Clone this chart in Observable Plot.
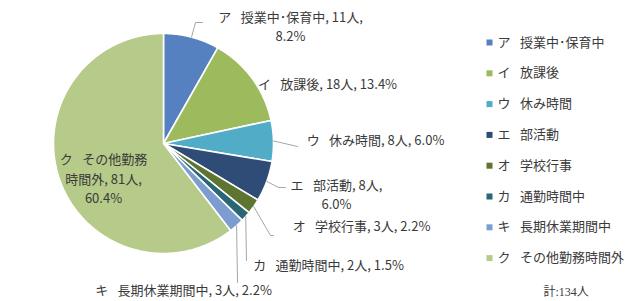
<!DOCTYPE html>
<html><head><meta charset="utf-8">
<script src="https://cdn.jsdelivr.net/npm/d3@7"></script>
<script src="https://cdn.jsdelivr.net/npm/@observablehq/plot@0.6"></script>
<style>
body{margin:0;background:#fff}
#chart svg{display:block}
</style>
</head><body><div id="chart"></div>
<script>
// ---- data ----
const SP = "\u2002 ";
const kana = ["ア","イ","ウ","エ","オ","カ","キ","ク"];
const names = ["授業中･保育中","放課後","休み時間","部活動","学校行事","通勤時間中","長期休業期間中","その他勤務時間外"];
const counts = [11, 18, 8, 8, 3, 2, 3, 81];
const colors = ["#5681c0","#9dbb5c","#50acc7","#2e4c75","#5e7431","#2a6675","#7d9dd1","#b6ca89"];
const totalLabel = "計:134人";
const categories = kana.map((k, i) => k + SP + names[i]);

// ---- layout (not data) ----
const W = 640, H = 301, CX = 163, CY = 143, R = 110;
const labelLayout = [
  {x: 290, y: 25,    wrap: true,  leader: [[195, 22], [202, 22]]},
  {x: 327, y: 82,    wrap: false, leader: []},
  {x: 375, y: 138,   wrap: false, leader: [[297, 146]]},
  {x: 336, y: 192.5, wrap: true,  leader: [[278, 187], [285, 187]]},
  {x: 361, y: 224,   wrap: false, leader: [[270, 235], [273, 235]]},
  {x: 328, y: 263,   wrap: false, leader: [[246, 260]]},
  {x: 183, y: 288,   wrap: false, leader: [[237, 282]]},
  {x: 103, y: 177,   wrap: true,  leader: null}
];

const total = d3.sum(counts);
const polar = (a, r) => [CX + r * Math.sin(a), CY - r * Math.cos(a)];

let acc = 0;
const slices = categories.map((c, i) => {
  const a0 = acc / total * 2 * Math.PI;
  acc += counts[i];
  const a1 = acc / total * 2 * Math.PI;
  return {c, i, a0, a1, mid: (a0 + a1) / 2, color: colors[i]};
});

const piePts = [];
for (const s of slices) {
  const n = Math.max(2, Math.ceil((s.a1 - s.a0) / (Math.PI / 360)));
  piePts.push({key: s.i, x: CX, y: CY, color: s.color});
  for (let k = 0; k <= n; k++) {
    const [x, y] = polar(s.a0 + (s.a1 - s.a0) * k / n, R);
    piePts.push({key: s.i, x, y, color: s.color});
  }
  piePts.push({key: s.i, x: CX, y: CY, color: s.color});
}

const leaderPts = [];
const labels = slices.map(s => {
  const L = labelLayout[s.i];
  const pct = (counts[s.i] / total * 100).toFixed(1) + "%";
  let txt;
  if (s.i === 7) {
    const nm = names[s.i];
    txt = kana[s.i] + SP + nm.slice(0, 5) + "\n" + nm.slice(5) + ", " + counts[s.i] + "人,\n" + pct;
  } else if (L.wrap) {
    txt = categories[s.i] + ", " + counts[s.i] + "人,\n" + pct;
  } else {
    txt = categories[s.i] + ", " + counts[s.i] + "人, " + pct;
  }
  if (L.leader && L.leader.length) {
    const [sx, sy] = polar(s.mid, R);
    leaderPts.push({key: s.i, x: sx, y: sy});
    for (const [x, y] of L.leader) leaderPts.push({key: s.i, x, y});
  }
  return {x: L.x, y: L.y, text: txt};
});

const legend = categories.map((c, i) => ({c, color: colors[i], x: 489, y: 42 + i * 30.8}));

const font = "'Noto Sans CJK JP', 'Noto Sans', sans-serif";
const ink = "#3a3a3a";
const FS = 13;
const chart = Plot.plot({
  width: W, height: H, margin: 0,
  x: {domain: [0, W], range: [0, W], axis: null},
  y: {domain: [0, H], range: [0, H], axis: null},
  color: {type: "identity"},
  style: {fontFamily: font, fontSize: FS + "px", background: "#fff"},
  marks: [
    Plot.line(piePts, {x: "x", y: "y", z: "key", fill: "color", stroke: "white", strokeWidth: 1.6, strokeLinejoin: "round", curve: "linear"}),
    Plot.line(leaderPts, {x: "x", y: "y", z: "key", stroke: "#a6a6a6", strokeWidth: 1}),
    Plot.text(labels, {x: "x", y: "y", text: "text", fill: ink, fontSize: FS, lineHeight: 1.5, textAnchor: "middle"}),
    Plot.dot(legend, {x: "x", y: "y", symbol: "square", r: 3.4, fill: "color", stroke: null}),
    Plot.text(legend, {x: d => d.x + 8, y: "y", text: "c", fill: ink, fontSize: FS, textAnchor: "start"}),
    Plot.text([totalLabel], {x: 543, y: 292, text: d => d, fill: ink, fontSize: 12, textAnchor: "start", fontFamily: "'Liberation Serif', 'Noto Sans CJK JP', serif"})
  ]
});
document.getElementById("chart").appendChild(chart);
</script>
</body></html>
